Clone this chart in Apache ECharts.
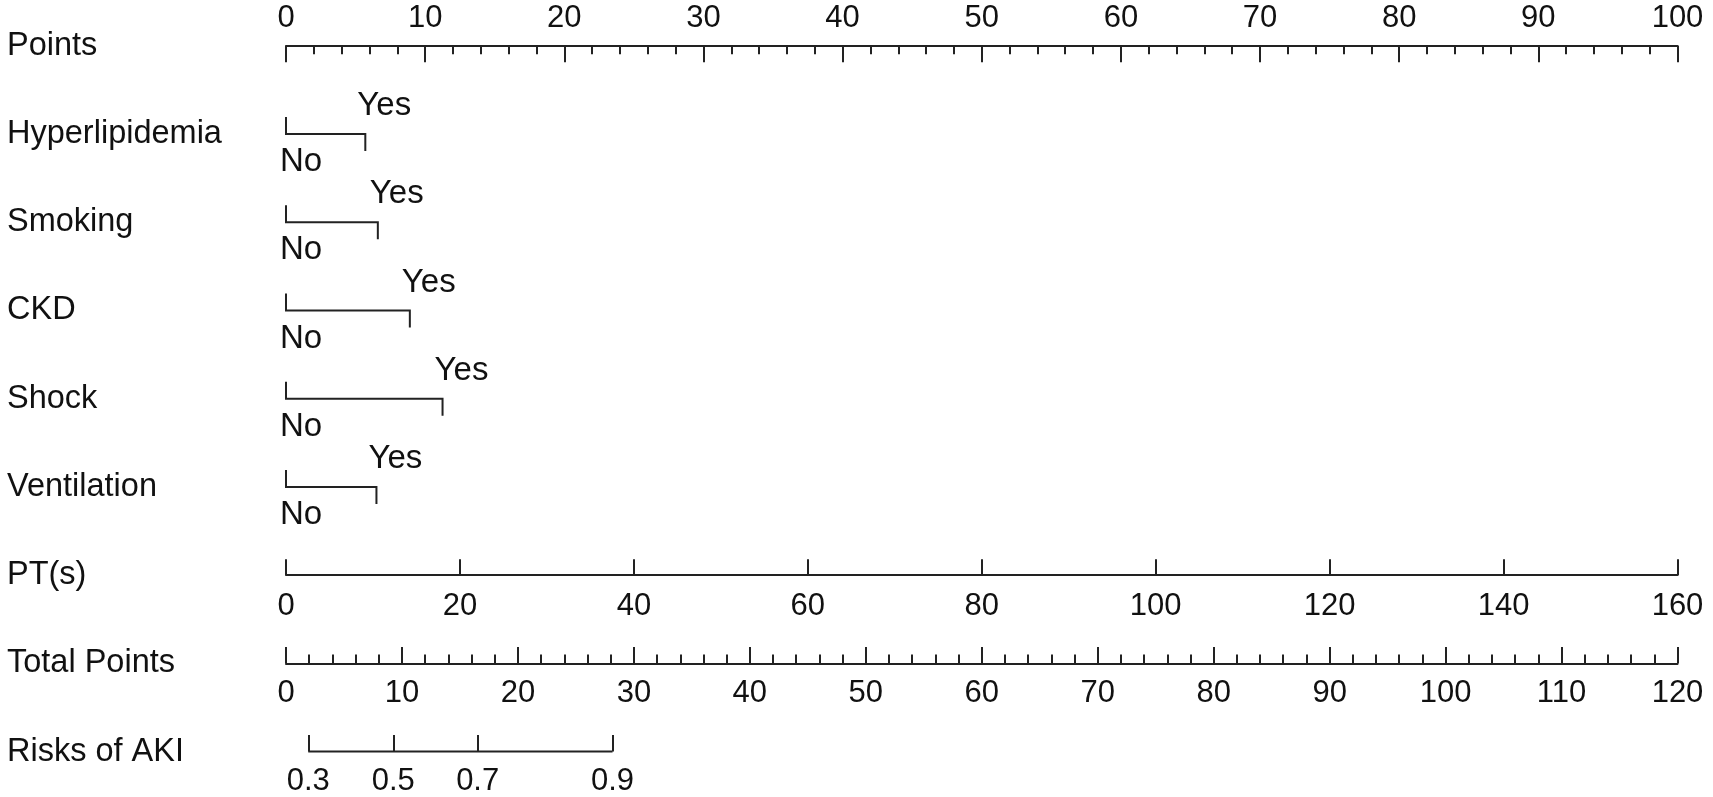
<!DOCTYPE html>
<html>
<head>
<meta charset="utf-8">
<script src="https://cdn.jsdelivr.net/npm/echarts@6/dist/echarts.min.js"></script>
<style>
html,body{margin:0;padding:0;background:#fff;}
#chart{width:1713px;height:797px;}
</style>
</head>
<body>
<div id="chart"></div>
<script>
// ---------- data ----------
const rowNames = ['Points','Hyperlipidemia','Smoking','CKD','Shock','Ventilation','PT(s)','Total Points','Risks of AKI'];
const variables = ['Hyperlipidemia','Smoking','CKD','Shock','Ventilation'];
const levelLabels = ['No','Yes'];
const noPoints = [0, 0, 0, 0, 0];
const yesPoints = [5.7, 6.6, 8.9, 11.25, 6.5];
const pointsRange = [0, 100];
const ptRange = [0, 160];
const totalRange = [0, 120];
const riskValues = [0.3, 0.5, 0.7, 0.9];
const riskTotalPoints = [1.92, 9.25, 16.53, 28.16];

// ---------- layout / style ----------
const FONT = '"Liberation Sans", Arial, Helvetica, sans-serif';
const INK = '#111';
const LINE = '#222';
const LW = 2;
const LEFT = 286, RIGHT = 35.5;
const ROW0 = 45.7, STEP = 88.25;
const rowY = i => ROW0 + i * STEP;

const chart = echarts.init(document.getElementById('chart'), null, {renderer: 'canvas'});

function axisGrid(i, pos) {
  const h = 30;
  return pos === 'top'
    ? {left: LEFT, right: RIGHT, top: rowY(i), height: h}
    : {left: LEFT, right: RIGHT, top: rowY(i) - h, height: h};
}

const grids = [
  {left: LEFT, right: RIGHT, top: ROW0 - STEP / 2, height: STEP * rowNames.length}, // main
  axisGrid(0, 'top'),     // Points
  axisGrid(6, 'bottom'),  // PT
  axisGrid(7, 'bottom'),  // Total
  axisGrid(8, 'bottom')   // Risk
];

const tickLabelStyle = {color: INK, fontSize: 31, fontFamily: FONT, verticalAlign: 'middle', showMinLabel: true, showMaxLabel: true, hideOverlap: false};
const axisLineStyle = {show: true, onZero: false, lineStyle: {color: LINE, width: LW}};

const xAxes = [
  {gridIndex: 0, type: 'value', min: pointsRange[0], max: pointsRange[1], show: false},
  {gridIndex: 1, type: 'value', position: 'top', min: pointsRange[0], max: pointsRange[1], interval: 10,
    axisLine: axisLineStyle,
    axisTick: {show: true, inside: true, length: 16.5, lineStyle: {color: LINE, width: LW}},
    minorTick: {show: true, splitNumber: 5, length: 8.5, lineStyle: {color: LINE, width: LW}},
    axisLabel: Object.assign({margin: 27}, tickLabelStyle),
    splitLine: {show: false}, minorSplitLine: {show: false}},
  {gridIndex: 2, type: 'value', position: 'bottom', min: ptRange[0], max: ptRange[1], interval: 20,
    axisLine: axisLineStyle,
    axisTick: {show: true, inside: true, length: 16, lineStyle: {color: LINE, width: LW}},
    axisLabel: Object.assign({margin: 31}, tickLabelStyle),
    splitLine: {show: false}},
  {gridIndex: 3, type: 'value', position: 'bottom', min: totalRange[0], max: totalRange[1], interval: 10,
    axisLine: axisLineStyle,
    axisTick: {show: true, inside: true, length: 16.5, lineStyle: {color: LINE, width: LW}},
    minorTick: {show: true, splitNumber: 5, length: 9, lineStyle: {color: LINE, width: LW}},
    axisLabel: Object.assign({margin: 30}, tickLabelStyle),
    splitLine: {show: false}, minorSplitLine: {show: false}},
  {gridIndex: 4, type: 'value', position: 'bottom', min: totalRange[0], max: totalRange[1],
    axisLine: {show: false, onZero: false},
    axisTick: {show: true, inside: true, length: 16.5, customValues: riskTotalPoints, lineStyle: {color: LINE, width: LW}},
    axisLabel: Object.assign({margin: 30, customValues: riskTotalPoints,
      formatter: v => { const k = riskTotalPoints.indexOf(v); return k >= 0 ? String(riskValues[k]) : ''; }}, tickLabelStyle),
    splitLine: {show: false}}
];

const yAxes = [
  {gridIndex: 0, type: 'category', inverse: true, data: rowNames,
    axisLine: {show: false}, axisTick: {show: false}, splitLine: {show: false},
    axisLabel: {show: true, align: 'left', margin: LEFT - 7, color: INK, fontSize: 32.5, fontFamily: FONT, interval: 0}},
  {gridIndex: 1, type: 'value', min: 0, max: 1, show: false},
  {gridIndex: 2, type: 'value', min: 0, max: 1, show: false},
  {gridIndex: 3, type: 'value', min: 0, max: 1, show: false},
  {gridIndex: 4, type: 'value', min: 0, max: 1, show: false}
];

const bracketData = variables.map((v, i) => [noPoints[i], yesPoints[i], v]);

const series = [
  {
    type: 'custom',
    xAxisIndex: 0, yAxisIndex: 0,
    clip: false,
    data: bracketData,
    encode: {x: [0, 1], y: 2},
    renderItem: function (params, api) {
      const name = variables[params.dataIndex];
      const p0 = api.coord([api.value(0), name]);
      const p1 = api.coord([api.value(1), name]);
      const y = p0[1];
      const tick = 17;
      return {
        type: 'group',
        children: [
          {type: 'polyline', shape: {points: [[p0[0], y - tick], [p0[0], y], [p1[0], y], [p1[0], y + tick]]},
            style: {stroke: LINE, lineWidth: LW, fill: null}},
          {type: 'text', x: p1[0] - 8, y: y - 28,
            style: {text: levelLabels[1], fill: INK, font: '33px ' + FONT, textAlign: 'left', textVerticalAlign: 'middle'}},
          {type: 'text', x: p0[0] - 6, y: y + 28,
            style: {text: levelLabels[0], fill: INK, font: '33px ' + FONT, textAlign: 'left', textVerticalAlign: 'middle'}}
        ]
      };
    }
  },
  {
    type: 'line',
    xAxisIndex: 4, yAxisIndex: 4,
    data: [[riskTotalPoints[0], 0], [riskTotalPoints[riskTotalPoints.length - 1], 0]],
    symbol: 'none', clip: false, silent: true,
    lineStyle: {color: LINE, width: LW}
  }
];

chart.setOption({
  backgroundColor: '#fff',
  animation: false,
  grid: grids,
  xAxis: xAxes,
  yAxis: yAxes,
  series: series
});
</script>
</body>
</html>
